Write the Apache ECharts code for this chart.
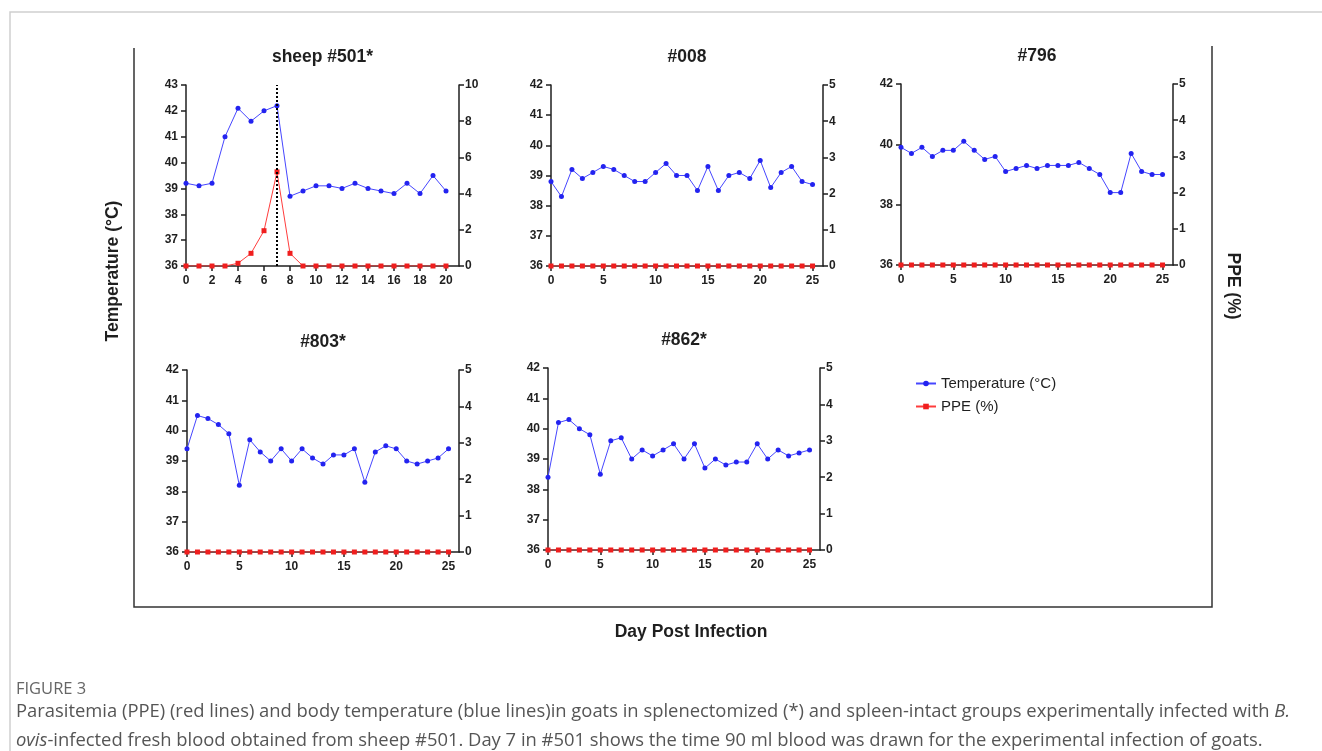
<!DOCTYPE html>
<html>
<head>
<meta charset="utf-8">
<script src="https://cdn.jsdelivr.net/npm/echarts@6/dist/echarts.min.js"></script>
<style>
  html, body { margin: 0; padding: 0; background: #fff; }
  #chart { width: 1322px; height: 751px; }
</style>
</head>
<body>
<div id="chart"></div>
<script>
// panel titles and day axes
const panelTitles = ['sheep #501*', '#008', '#796', '#803*', '#862*'];
const daysSheep = [0, 1, 2, 3, 4, 5, 6, 7, 8, 9, 10, 11, 12, 13, 14, 15, 16, 17, 18, 19, 20];
const daysGoat = [0, 1, 2, 3, 4, 5, 6, 7, 8, 9, 10, 11, 12, 13, 14, 15, 16, 17, 18, 19, 20, 21, 22, 23, 24, 25];

// temperature (°C)
const temp501 = [39.2, 39.1, 39.2, 41.0, 42.1, 41.6, 42.0, 42.2, 38.7, 38.9, 39.1, 39.1, 39.0, 39.2, 39.0, 38.9, 38.8, 39.2, 38.8, 39.5, 38.9];
const temp008 = [38.8, 38.3, 39.2, 38.9, 39.1, 39.3, 39.2, 39.0, 38.8, 38.8, 39.1, 39.4, 39.0, 39.0, 38.5, 39.3, 38.5, 39.0, 39.1, 38.9, 39.5, 38.6, 39.1, 39.3, 38.8, 38.7];
const temp796 = [39.9, 39.7, 39.9, 39.6, 39.8, 39.8, 40.1, 39.8, 39.5, 39.6, 39.1, 39.2, 39.3, 39.2, 39.3, 39.3, 39.3, 39.4, 39.2, 39.0, 38.4, 38.4, 39.7, 39.1, 39.0, 39.0];
const temp803 = [39.4, 40.5, 40.4, 40.2, 39.9, 38.2, 39.7, 39.3, 39.0, 39.4, 39.0, 39.4, 39.1, 38.9, 39.2, 39.2, 39.4, 38.3, 39.3, 39.5, 39.4, 39.0, 38.9, 39.0, 39.1, 39.4];
const temp862 = [38.4, 40.2, 40.3, 40.0, 39.8, 38.5, 39.6, 39.7, 39.0, 39.3, 39.1, 39.3, 39.5, 39.0, 39.5, 38.7, 39.0, 38.8, 38.9, 38.9, 39.5, 39.0, 39.3, 39.1, 39.2, 39.3];

// parasitemia PPE (%)
const ppe501 = [0, 0, 0, 0, 0.15, 0.7, 1.95, 5.2, 0.7, 0, 0, 0, 0, 0, 0, 0, 0, 0, 0, 0, 0];
const ppe008 = [0, 0, 0, 0, 0, 0, 0, 0, 0, 0, 0, 0, 0, 0, 0, 0, 0, 0, 0, 0, 0, 0, 0, 0, 0, 0];
const ppe796 = [0, 0, 0, 0, 0, 0, 0, 0, 0, 0, 0, 0, 0, 0, 0, 0, 0, 0, 0, 0, 0, 0, 0, 0, 0, 0];
const ppe803 = [0, 0, 0, 0, 0, 0, 0, 0, 0, 0, 0, 0, 0, 0, 0, 0, 0, 0, 0, 0, 0, 0, 0, 0, 0, 0];
const ppe862 = [0, 0, 0, 0, 0, 0, 0, 0, 0, 0, 0, 0, 0, 0, 0, 0, 0, 0, 0, 0, 0, 0, 0, 0, 0, 0];

const panels = [
  { days: daysSheep, temp: temp501, ppe: ppe501, rect: [186, 85, 273, 181], xMax: 21, xStep: 2, tMax: 43, tStep: 1, pMax: 10, pStep: 2 },
  { days: daysGoat, temp: temp008, ppe: ppe008, rect: [551, 85, 272, 181], xMax: 26, xStep: 5, tMax: 42, tStep: 1, pMax: 5, pStep: 1 },
  { days: daysGoat, temp: temp796, ppe: ppe796, rect: [901, 84, 272, 181], xMax: 26, xStep: 5, tMax: 42, tStep: 2, pMax: 5, pStep: 1 },
  { days: daysGoat, temp: temp803, ppe: ppe803, rect: [187, 370, 272, 182], xMax: 26, xStep: 5, tMax: 42, tStep: 1, pMax: 5, pStep: 1 },
  { days: daysGoat, temp: temp862, ppe: ppe862, rect: [548, 368, 272, 182], xMax: 26, xStep: 5, tMax: 42, tStep: 1, pMax: 5, pStep: 1 }
];

const ink = '#1f1f1f';
const boldFont = 'bold 17.5px "Liberation Sans", Arial, sans-serif';
const tickFont = { fontFamily: 'Liberation Sans, Arial, sans-serif', fontWeight: 'bold', fontSize: 12, color: ink };
const axisLine = { show: true, onZero: false, lineStyle: { color: ink, width: 1.5 } };
const axisTick = { show: true, inside: false, length: 5, lineStyle: { color: ink, width: 1.5 } };

const grid = [], xAxis = [], yAxis = [], series = [], graphic = [];

panels.forEach((p, i) => {
  const [l, t, w, h] = p.rect;
  grid.push({ left: l, top: t, width: w, height: h });
  xAxis.push({
    type: 'value', gridIndex: i, min: 0, max: p.xMax, interval: p.xStep,
    axisLine, axisTick, splitLine: { show: false },
    axisLabel: { ...tickFont, margin: 9, showMaxLabel: false }
  });
  yAxis.push({
    type: 'value', gridIndex: i, position: 'left', min: 36, max: p.tMax, interval: p.tStep,
    axisLine, axisTick, splitLine: { show: false },
    axisLabel: { ...tickFont, margin: 8 }
  });
  yAxis.push({
    type: 'value', gridIndex: i, position: 'right', min: 0, max: p.pMax, interval: p.pStep,
    axisLine, axisTick, splitLine: { show: false },
    axisLabel: { ...tickFont, margin: 6 }
  });
  series.push({
    name: 'PPE (%)', type: 'line', xAxisIndex: i, yAxisIndex: 2 * i + 1,
    data: p.days.map((d, k) => [d, p.ppe[k]]),
    symbol: 'rect', symbolSize: 5, showAllSymbol: true,
    itemStyle: { color: '#f01e1e' }, lineStyle: { color: '#ff3c3c', width: 1 },
    z: 3
  });
  const temp = {
    name: 'Temperature (°C)', type: 'line', xAxisIndex: i, yAxisIndex: 2 * i,
    data: p.days.map((d, k) => [d, p.temp[k]]),
    symbol: 'circle', symbolSize: 5, showAllSymbol: true,
    itemStyle: { color: '#2323f0' }, lineStyle: { color: '#4646ff', width: 1 },
    z: 4
  };
  if (i === 0) {
    // day 7: blood drawn for goat infection
    temp.markLine = {
      silent: true, symbol: 'none', label: { show: false },
      lineStyle: { color: '#000', type: 'dotted', width: 2 },
      data: [{ xAxis: 7 }]
    };
  }
  series.push(temp);
  graphic.push({
    type: 'text', x: l + w / 2, y: t - 28,
    style: { text: panelTitles[i], align: 'center', verticalAlign: 'middle', font: boldFont, fill: ink }
  });
});

// caption text styles
const capRich = {
  n: { font: '18.4px "Open Sans", sans-serif', fill: '#555' },
  i: { font: 'italic 18.4px "Open Sans", sans-serif', fill: '#555' }
};

// page border + outer frame
graphic.push(
  { type: 'polyline', shape: { points: [[10, 751], [10, 12], [1322, 12]] }, style: { stroke: '#cfcfcf', lineWidth: 1.5, fill: null } },
  { type: 'polyline', shape: { points: [[134, 48], [134, 607], [1212, 607], [1212, 46]] }, style: { stroke: '#333', lineWidth: 1.5, fill: null } },
  { type: 'text', x: 113, y: 271, rotation: Math.PI / 2,
    style: { text: 'Temperature (°C)', align: 'center', verticalAlign: 'middle', font: boldFont, fill: ink } },
  { type: 'text', x: 1233, y: 286, rotation: -Math.PI / 2,
    style: { text: 'PPE (%)', align: 'center', verticalAlign: 'middle', font: boldFont, fill: ink } },
  { type: 'text', x: 691, y: 632,
    style: { text: 'Day Post Infection', align: 'center', verticalAlign: 'middle', font: boldFont, fill: ink } },
  { type: 'text', x: 16, y: 689,
    style: { text: 'FIGURE 3', align: 'left', verticalAlign: 'middle', font: '16.5px "Open Sans", sans-serif', fill: '#666' } },
  { type: 'text', x: 16, y: 712,
    style: {
      text: '{n|Parasitemia (PPE) (red lines) and body temperature (blue lines)in goats in splenectomized (*) and spleen-intact groups experimentally infected with }{i|B.}',
      align: 'left', verticalAlign: 'middle', rich: capRich
    } },
  { type: 'text', x: 16, y: 741,
    style: {
      text: '{i|ovis}{n|-infected fresh blood obtained from sheep #501. Day 7 in #501 shows the time 90 ml blood was drawn for the experimental infection of goats.}',
      align: 'left', verticalAlign: 'middle', rich: capRich
    } }
);

const chart = echarts.init(document.getElementById('chart'), null, { renderer: 'canvas' });
chart.setOption({
  animation: false,
  backgroundColor: '#fff',
  grid, xAxis, yAxis, series, graphic,
  legend: {
    orient: 'vertical', left: 910, top: 371, itemGap: 8, itemWidth: 20, itemHeight: 7,
    data: ['Temperature (°C)', 'PPE (%)'],
    textStyle: { fontFamily: 'Liberation Sans, Arial, sans-serif', fontSize: 15, color: ink }
  }
});
</script>
</body>
</html>
